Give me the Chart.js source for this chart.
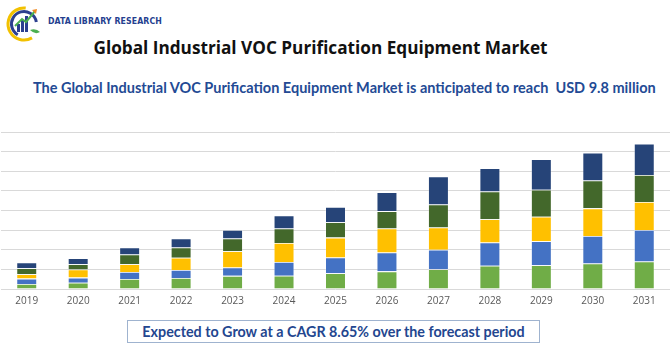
<!DOCTYPE html>
<html><head><meta charset="utf-8">
<script src="https://cdn.jsdelivr.net/npm/chart.js@4/dist/chart.umd.min.js"></script>
<style>
html,body{margin:0;padding:0;background:#fff;width:670px;height:350px;overflow:hidden;position:relative;font-family:"Open Sans",sans-serif}
#logo{position:absolute;left:4px;top:2px;width:44px;height:42px}
#brand{position:absolute;left:48px;top:16px;font-family:"DejaVu Sans Condensed","DejaVu Sans",sans-serif;font-weight:bold;font-size:8.7px;color:#253f8f;letter-spacing:0.1px}
#title{position:absolute;left:0;width:641px;top:36px;text-align:center;font-family:"Open Sans",sans-serif;font-weight:bold;font-size:17.2px;color:#111}
#sub{position:absolute;left:33px;top:79px;font-family:Lato,sans-serif;font-weight:bold;font-size:14.5px;color:#234a94;white-space:nowrap}
#wrap{position:absolute;left:0;top:120px;width:670px;height:200px}
#box{position:absolute;left:127px;top:320px;width:411px;height:21px;border:1px solid #9fb3cf;text-align:center;font-family:Lato,sans-serif;font-weight:bold;font-size:14.3px;color:#23468f;line-height:21px;white-space:nowrap}
</style></head><body>
<svg id="logo" viewBox="0 0 44 42">
  <circle cx="20" cy="22" r="16" fill="none" stroke="#f2c100" stroke-width="3" stroke-dasharray="60 40" transform="rotate(60 20 22)"/>
  <circle cx="20" cy="22" r="12.5" fill="none" stroke="#2c3f8f" stroke-width="3" stroke-dasharray="50 30" transform="rotate(120 20 22)"/>
  <rect x="13" y="22" width="3" height="8" fill="#2c3f8f"/>
  <rect x="17" y="18" width="3" height="12" fill="#2c3f8f"/>
  <rect x="21" y="14" width="3" height="16" fill="#2c3f8f"/>
  <path d="M11 24 L18 17 L22 20 L31 9" fill="none" stroke="#4caf50" stroke-width="2"/>
  <path d="M28 8 L33 7 L32 12 Z" fill="#f08a24"/>
  <path d="M26 28 Q32 26 36 30 Q31 33 26 28Z" fill="#4caf50"/>
</svg>
<div id="brand">DATA LIBRARY RESEARCH</div>
<div id="title">Global Industrial VOC Purification Equipment Market</div>
<div id="sub">The Global Industrial VOC Purification Equipment Market is anticipated to reach&nbsp; USD 9.8 million</div>
<div id="wrap"><canvas id="c" width="670" height="200"></canvas></div>
<div id="box">Expected to Grow at a CAGR 8.65% over the forecast period</div>
<script>
const years = ["2019","2020","2021","2022","2023","2024","2025","2026","2027","2028","2029","2030","2031"];
const seg1 = [0.26,0.32,0.51,0.56,0.67,0.68,0.80,0.90,1.01,1.19,1.21,1.30,1.40];
const seg2 = [0.27,0.26,0.36,0.41,0.43,0.70,0.81,0.96,0.99,1.18,1.22,1.40,1.61];
const seg3 = [0.22,0.41,0.39,0.62,0.82,0.97,1.01,1.22,1.13,1.19,1.25,1.41,1.42];
const seg4 = [0.31,0.27,0.50,0.53,0.65,0.73,0.78,0.89,1.18,1.41,1.38,1.42,1.38];
const seg5 = [0.29,0.31,0.36,0.46,0.44,0.67,0.78,0.96,1.42,1.18,1.56,1.42,1.59];
const colors = ["#70ad47","#4472c4","#ffc000","#43682b","#264478"];
const series = [seg1,seg2,seg3,seg4,seg5];
new Chart(document.getElementById("c"),{
  type:"bar",
  data:{labels:years,datasets:series.map((d,i)=>({data:d,backgroundColor:colors[i],borderColor:"rgba(255,255,255,0.35)",borderWidth:0.8,barPercentage:0.4,categoryPercentage:1}))},
  options:{
    responsive:false,animation:false,
    layout:{padding:{left:1,right:0,top:12,bottom:7}},
    plugins:{legend:{display:false},tooltip:{enabled:false}},
    scales:{
      x:{stacked:true,grid:{display:false,drawTicks:false},border:{display:false},
         ticks:{color:"#595959",font:{family:"Open Sans",size:10},padding:6}},
      y:{stacked:true,min:0,max:8,display:true,
         ticks:{display:false,stepSize:1},
         grid:{color:"#d9d9d9",lineWidth:1,drawTicks:false},border:{display:false}}
    }
  }
});
</script>
</body></html>
